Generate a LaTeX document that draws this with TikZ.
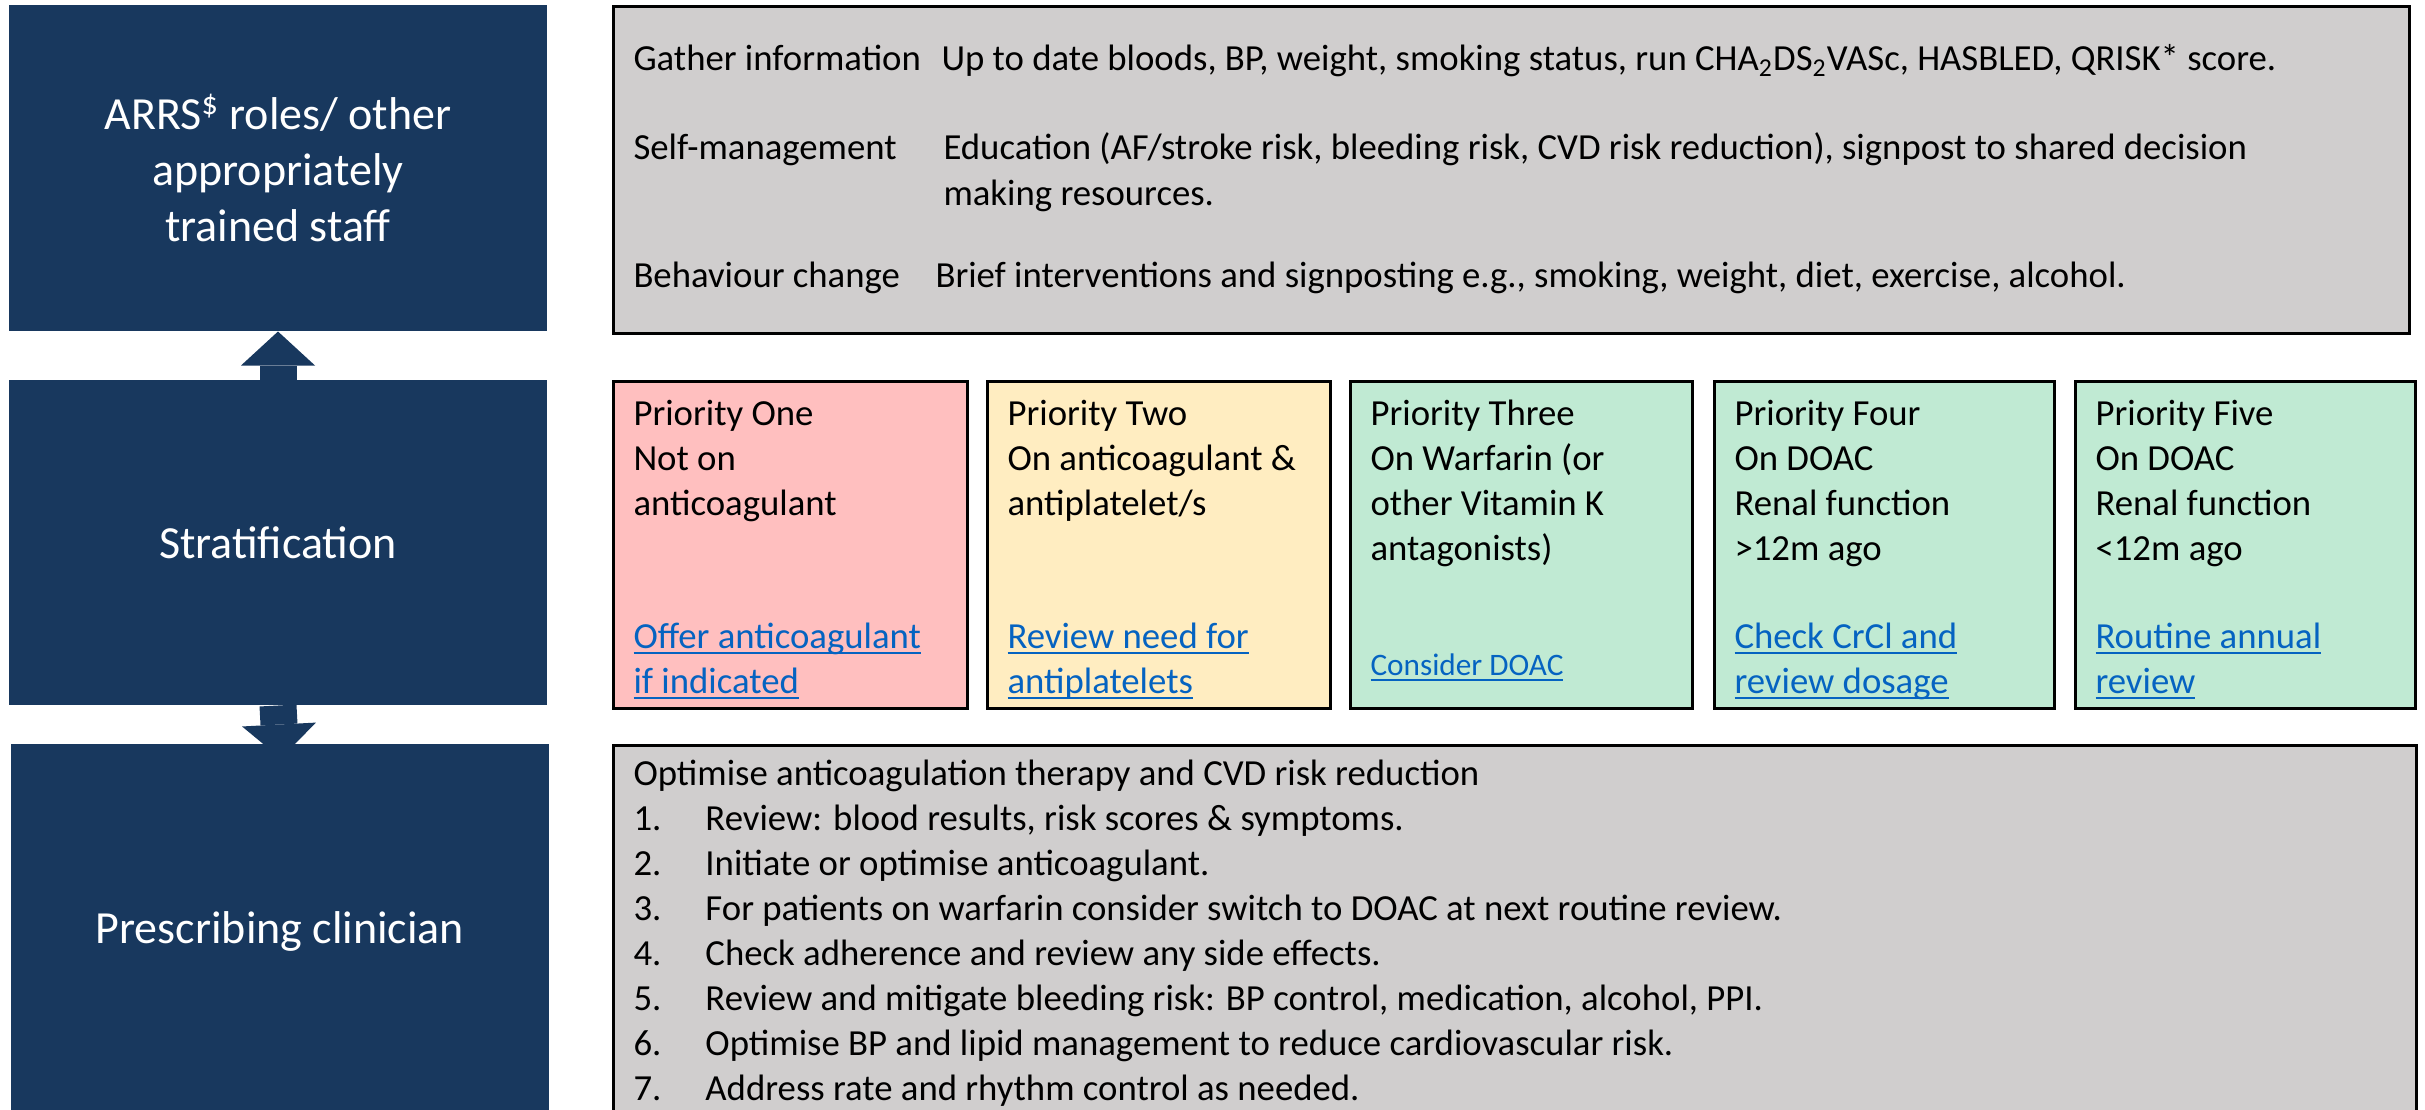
\documentclass[tikz,border=0pt]{standalone}
\usepackage{fontspec}
\setmainfont{Carlito}
\usetikzlibrary{arrows.meta,backgrounds}
\definecolor{navy}{RGB}{24,56,94}
\definecolor{boxgrey}{RGB}{208,206,206}
\definecolor{prone}{RGB}{255,191,191}
\definecolor{prtwo}{RGB}{255,237,193}
\definecolor{prgreen}{RGB}{192,234,211}
\definecolor{linkblue}{RGB}{5,99,193}
\newcommand\linktext[1]{{\setbox0\hbox{#1}\rlap{\rule[-2.4pt]{\wd0}{0.9pt}}\box0}}

\begin{document}
\begin{tikzpicture}[>=latex,
  role/.style={fill=navy,text=white,align=center,inner sep=0pt,minimum width=215.2pt,font=\fontsize{18.4pt}{22.4pt}\selectfont},
  panel/.style={draw=black,line width=1.2pt,anchor=north west,inner sep=0pt},
  txt/.style={anchor=base west,inner sep=0pt,align=left,font=\fontsize{14.7pt}{18pt}\selectfont},
  link/.style={txt,text=linkblue},
  updown/.style={navy,line width=14.8pt,-{Triangle[length=13.6pt,width=29.6pt,line width=0pt]}}]
\useasboundingbox (0,0) rectangle (970pt,-444pt);
\clip (0,0) rectangle (970pt,-444pt);
%% (multi-line texts are placed at the baseline of their last line)
\node[role,minimum height=130.4pt] (staff) at (111.2pt,-67.2pt) {ARRS\textsuperscript{\$} roles/ other\\ appropriately\\ trained staff};
\node[role,minimum height=130pt] (strat) at (111.2pt,-217pt) {Stratification};
\node[role,minimum height=150pt] (clin) at (112pt,-372.6pt) {Prescribing clinician};
\begin{scope}[on background layer]
  \draw[updown] (strat.north) -- (staff.south);
  \draw[updown,shorten >=-6pt] (strat.south) -- (clin.north);
\end{scope}
%%
\node[panel,fill=boxgrey,minimum width=718.4pt,minimum height=130.8pt] (gather) at (244.8pt,-2pt) {};
\node[txt] (gatherhd) at (253.2pt,-28.4pt) {Gather information};
\node[txt] (gathertx) at (376.4pt,-28.4pt) {Up to date bloods, BP, weight, smoking status, run CHA\textsubscript{2}DS\textsubscript{2}VASc, HASBLED, QRISK* score.};
\node[txt] (selfhd) at (253.2pt,-64pt) {Self-management};
\node[txt] (selftx) at (377.2pt,-82pt) {Education (AF/stroke risk, bleeding risk, CVD risk reduction), signpost to shared decision\\ making resources.};
\node[txt] (behavhd) at (253.2pt,-114.8pt) {Behaviour change};
\node[txt] (behavtx) at (374pt,-114.8pt) {Brief interventions and signposting e.g., smoking, weight, diet, exercise, alcohol.};
%%
\node[panel,fill=prone,minimum width=141.6pt,minimum height=130.8pt] (prio1) at (244.8pt,-152pt) {};
\node[panel,fill=prtwo,minimum width=137.2pt,minimum height=130.8pt] (prio2) at (394.4pt,-152pt) {};
\node[panel,fill=prgreen,minimum width=136.8pt,minimum height=130.8pt] (prio3) at (539.6pt,-152pt) {};
\node[panel,fill=prgreen,minimum width=136pt,minimum height=130.8pt] (prio4) at (685.2pt,-152pt) {};
\node[panel,fill=prgreen,minimum width=136pt,minimum height=130.8pt] (prio5) at (829.6pt,-152pt) {};
\node[txt] (prio1tx) at (253.2pt,-206pt) {Priority One\\ Not on\\ anticoagulant};
\node[txt] (prio2tx) at (402.8pt,-206pt) {Priority Two\\ On anticoagulant \&\\ antiplatelet/s};
\node[txt] (prio3tx) at (548pt,-224pt) {Priority Three\\ On Warfarin (or\\ other Vitamin K\\ antagonists)};
\node[txt] (prio4tx) at (693.6pt,-224pt) {Priority Four\\ On DOAC\\ Renal function\\ >12m ago};
\node[txt] (prio5tx) at (838pt,-224pt) {Priority Five\\ On DOAC\\ Renal function\\ <12m ago};
\node[link] (prio1ln) at (253.2pt,-277.2pt) {\linktext{Offer anticoagulant}\\ \linktext{if indicated}};
\node[link] (prio2ln) at (402.8pt,-277.2pt) {\linktext{Review need for}\\ \linktext{antiplatelets}};
\node[link,font=\fontsize{12.5pt}{15pt}\selectfont] (prio3ln) at (548pt,-270pt) {\linktext{Consider DOAC}};
\node[link] (prio4ln) at (693.6pt,-277.2pt) {\linktext{Check CrCl and}\\ \linktext{review dosage}};
\node[link] (prio5ln) at (838pt,-277.2pt) {\linktext{Routine annual}\\ \linktext{review}};
%%
\node[panel,fill=boxgrey,minimum width=721.2pt,minimum height=152pt] (optim) at (244.8pt,-297.6pt) {};
\node[txt] (optimtx) at (253.2pt,-440pt) {Optimise anticoagulation therapy and CVD risk reduction\\
  \makebox[28.8pt][l]{1.}Review: blood results, risk scores \& symptoms.\\
  \makebox[28.8pt][l]{2.}Initiate or optimise anticoagulant.\\
  \makebox[28.8pt][l]{3.}For patients on warfarin consider switch to DOAC at next routine review.\\
  \makebox[28.8pt][l]{4.}Check adherence and review any side effects.\\
  \makebox[28.8pt][l]{5.}Review and mitigate bleeding risk: BP control, medication, alcohol, PPI.\\
  \makebox[28.8pt][l]{6.}Optimise BP and lipid management to reduce cardiovascular risk.\\
  \makebox[28.8pt][l]{7.}Address rate and rhythm control as needed.};
%
\end{tikzpicture}
\end{document}
